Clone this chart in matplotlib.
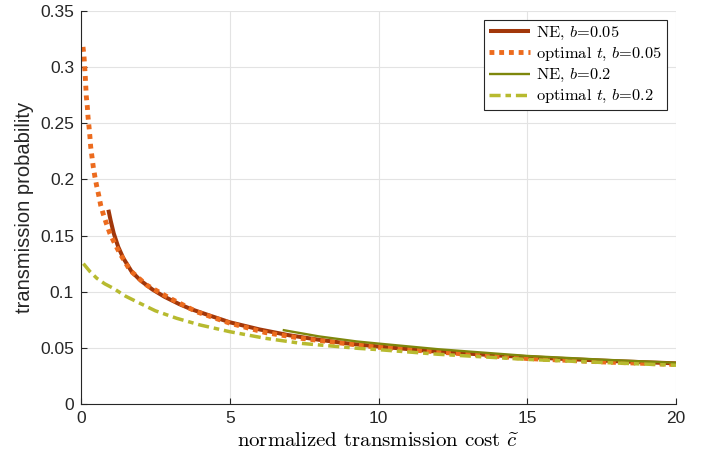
import matplotlib
matplotlib.use("Agg")
import matplotlib.pyplot as plt
from matplotlib.font_manager import FontProperties

plt.rcParams['font.family'] = ['Liberation Sans', 'DejaVu Sans']
plt.rcParams['mathtext.fontset'] = 'cm'

# NE, b=0.05
ne05_c = [0.92, 1.0, 1.1, 1.25, 1.42, 1.7, 2.0, 2.4, 2.8, 3.3, 3.7, 4.3, 5.0, 6.0, 7.0, 8.0, 9.0, 10.0, 12.0, 14.0, 16.0, 18.0, 20.0]
ne05_p = [0.173, 0.163, 0.152, 0.140, 0.130, 0.118, 0.110, 0.102, 0.0956, 0.089, 0.0845, 0.079, 0.0728, 0.0664, 0.0612, 0.0572, 0.0538, 0.0512, 0.0466, 0.0432, 0.0404, 0.0381, 0.0362]

# optimal t, b=0.05
opt05_c = [0.067, 0.10, 0.124, 0.145, 0.178, 0.212, 0.235, 0.269, 0.30, 0.326, 0.37, 0.413, 0.47, 0.528, 0.595, 0.662, 0.75, 0.85, 0.97, 1.15, 1.31, 1.65, 2.2, 3.0, 3.9, 5.0, 6.2, 7.4, 9.3, 10.0, 12.0, 15.0, 17.5, 20.0]
opt05_p = [0.318, 0.310, 0.300, 0.291, 0.274, 0.265, 0.256, 0.247, 0.238, 0.229, 0.220, 0.211, 0.202, 0.194, 0.186, 0.177, 0.169, 0.161, 0.152, 0.142, 0.134, 0.119, 0.106, 0.094, 0.082, 0.072, 0.0636, 0.0585, 0.0525, 0.0505, 0.0463, 0.0405, 0.0375, 0.0352]

# NE, b=0.2
ne2_c = [6.78, 8.0, 9.27, 10.0, 12.0, 15.0, 17.5, 20.0]
ne2_p = [0.0659, 0.0602, 0.0557, 0.0538, 0.0488, 0.0428, 0.0395, 0.0367]

# optimal t, b=0.2
opt2_c = [0.08, 0.3, 0.53, 0.8, 1.09, 1.5, 1.98, 2.5, 3.22, 4.0, 5.0, 6.2, 7.4, 9.3, 10.0, 12.0, 15.0, 17.5, 20.0]
opt2_p = [0.125, 0.118, 0.112, 0.107, 0.103, 0.096, 0.0897, 0.083, 0.0763, 0.0704, 0.0644, 0.0585, 0.054, 0.0496, 0.0484, 0.0443, 0.0397, 0.0370, 0.0345]

x_ticks = [0, 5, 10, 15, 20]
y_ticks = [0, 0.05, 0.1, 0.15, 0.2, 0.25, 0.3, 0.35]
y_tick_labels = ['0', '0.05', '0.1', '0.15', '0.2', '0.25', '0.3', '0.35']

fig = plt.figure(figsize=(7.1, 4.62), dpi=100)
ax = fig.add_axes([81/710, 58/462, 595/710, 393/462])

ax.plot(ne05_c, ne05_p, color='#A2370A', lw=2.9, solid_capstyle='butt',
        label='NE, $b$=0.05')
ax.plot(opt05_c, opt05_p, color='#EC6B1E', lw=3.5, dashes=(1.0, 1.0), dash_capstyle='butt',
        label='optimal $t$, $b$=0.05')
ax.plot(ne2_c, ne2_p, color='#7E870C', lw=1.7, solid_capstyle='butt',
        label='NE, $b$=0.2')
ax.plot(opt2_c, opt2_p, color='#B7BA2F', lw=2.5, dashes=(3.2, 1.4, 1.6, 1.4), dash_capstyle='butt',
        label='optimal $t$, $b$=0.2')

ax.set_xlim(0, 20)
ax.set_ylim(0, 0.35)
ax.set_xticks(x_ticks)
ax.set_yticks(y_ticks)
ax.set_yticklabels(y_tick_labels)
ax.tick_params(direction='in', length=4.3, width=0.8, colors='#262626', labelsize=12.5, pad=5)
ax.grid(True, color='#e3e3e3', lw=0.8)
ax.set_axisbelow(True)
for s in ['top', 'right']:
    ax.spines[s].set_visible(False)
for s in ['left', 'bottom']:
    ax.spines[s].set_color('#262626')
    ax.spines[s].set_linewidth(0.8)

ax.set_xlabel(r'normalized transmission cost $\widetilde{c}$', family='cmr10', fontsize=15, labelpad=4)
ax.set_ylabel('transmission probability', fontsize=14.5, color='#262626', labelpad=4)

leg = ax.legend(loc='upper right', bbox_to_anchor=(0.985, 0.977),
                prop=FontProperties(family='cmr10', size=11.8), frameon=True,
                fancybox=False, edgecolor='#262626', framealpha=1, handlelength=2.5,
                handletextpad=0.4, borderpad=0.3, labelspacing=0.25, borderaxespad=0)
leg.get_frame().set_linewidth(0.8)

fig.savefig('out.png', dpi=100)
